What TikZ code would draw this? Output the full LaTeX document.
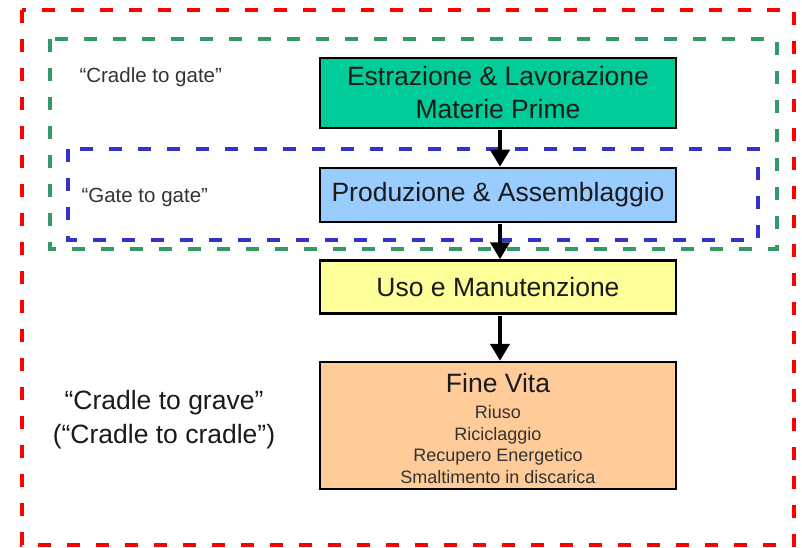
\documentclass[tikz,border=0pt]{standalone}
\usepackage{fontspec}
\setmainfont{Liberation Sans}
\usetikzlibrary{arrows.meta}
\definecolor{frameRed}{HTML}{FF0000}
\definecolor{frameGreen}{HTML}{339966}
\definecolor{frameBlue}{HTML}{3333CC}
\definecolor{fillGreen}{HTML}{00CC99}
\definecolor{fillBlue}{HTML}{99CCFF}
\definecolor{fillYellow}{HTML}{FFFF99}
\definecolor{fillOrange}{HTML}{FFCC99}
\definecolor{labelGray}{HTML}{333333}
\definecolor{textDark}{HTML}{1A1A1A}
\tikzset{
  stage/.style={draw=black, line width=2.5pt, minimum width=356pt, align=center, inner sep=0pt, text=textDark, font=\fontsize{26.5}{33}\selectfont},
  frame/.style={line width=4.3pt, dash pattern=on 13pt off 16pt},
  flow/.style={line width=4.5pt, -{Triangle[length=17pt,width=19pt]}, shorten <=1pt},
  scope label/.style={text=labelGray, font=\fontsize{20.5}{24}\selectfont, anchor=west},
}
\begin{document}
\begin{tikzpicture}[x=1pt, y=-1pt]
\useasboundingbox (0,0) rectangle (802,548);
% nested system boundaries
\draw[frame, frameRed] (22,10) rectangle (794,545);
\draw[frame, frameGreen] (50,39) rectangle (777,249);
\draw[frame, frameBlue] (68,149) rectangle (758,240);
% life-cycle stages
\node[stage, fill=fillGreen, minimum height=70pt] (extr) at (498,93) {Estrazione \& Lavorazione\\Materie Prime};
\node[stage, fill=fillBlue, minimum height=54pt] (prod) at (498,195) {Produzione \& Assemblaggio};
\node[stage, fill=fillYellow, minimum height=53pt] (uso) at (498,287) {Uso e Manutenzione};
\node[stage, fill=fillOrange, minimum height=127pt] (fine) at (498,425.5) {};
\node[align=center, text=textDark, font=\fontsize{26.5}{31}\selectfont] (fineT) at (498,383) {Fine Vita};
\node[align=center, text=labelGray, font=\fontsize{18}{21.7}\selectfont] (fineL) at (498,444.5) {Riuso\\Riciclaggio\\Recupero Energetico\\Smaltimento in discarica};
% flow arrows
\draw[flow] ([xshift=2pt]extr.south) -- ([xshift=2pt]prod.north);
\draw[flow] ([xshift=2pt]prod.south) -- ([xshift=2pt]uso.north);
\draw[flow] ([xshift=2pt]uso.south) -- ([xshift=2pt]fine.north);
% boundary labels
\node[scope label] (ctg) at (76,77) {“Cradle to gate”};
\node[scope label] (gtg) at (78,197) {“Gate to gate”};
\node[align=center, text=textDark, font=\fontsize{26.5}{34}\selectfont] (ctgr) at (164,420) {“Cradle to grave”\\(“Cradle to cradle”)};
\end{tikzpicture}
\end{document}
